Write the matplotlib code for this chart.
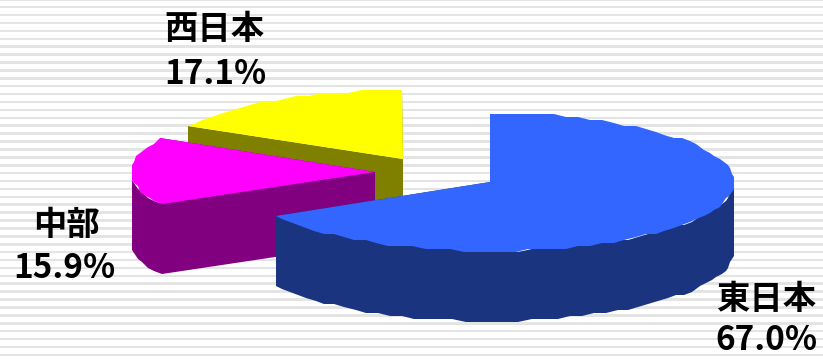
import numpy as np
import matplotlib.pyplot as plt
from matplotlib.patches import Polygon

# Regional shares, clockwise from 12 o'clock
regions = ['東日本', '中部', '西日本']
shares = [67.0, 15.9, 17.1]
top_colors = ['#3366FF', '#FF00FF', '#FFFF00']
side_colors = ['#1A347F', '#800080', '#808000']

# Pulled-out centre of each slice, pixels
centers = [(490, 182), (375, 172), (403, 159)]
rx, ry, depth = 244, 69, 70
W, H = 823, 360

edges = np.radians(np.cumsum([0] + shares) * 3.6)


def rim(cx, cy, a0, a1):
    t = np.linspace(a0, a1, max(int(np.degrees(a1 - a0) / 3), 2))
    # coarse steps give the stepped outline of the old chart renderer
    x = np.round((cx + rx * np.sin(t)) / 2) * 2
    y = np.round((cy - ry * np.cos(t)) / 3) * 3
    return x, y


fig = plt.figure(figsize=(W / 100, H / 100), dpi=100)
ax = fig.add_axes([0, 0, 1, 1])
ax.set(xlim=(0, W), ylim=(H, 0))
ax.axis('off')

# Striped background
for y in np.arange(-0.7, H + 2, 7.9):
    ax.axhspan(y - 1.3, y + 1.3, color='#E4E4E4', lw=0, zorder=0)

# Back to front: yellow, magenta, blue
for i in [2, 1, 0]:
    cx, cy = centers[i]
    a0, a1 = edges[i], edges[i + 1]
    x, y = rim(cx, cy, a0, a1)
    # cut faces
    for px, py in [(x[0], y[0]), (x[-1], y[-1])]:
        ax.add_patch(Polygon([(px, py), (cx, cy), (cx, cy + depth), (px, py + depth)],
                             fc=side_colors[i], ec='none', zorder=2 + 3 * (2 - i)))
    # outer wall, only where it faces the viewer
    lo, hi = max(a0, np.pi / 2), min(a1, 3 * np.pi / 2)
    if hi > lo:
        wx, wy = rim(cx, cy, lo, hi)
        wall = np.r_[np.c_[wx, wy], np.c_[wx, wy + depth][::-1]]
        ax.add_patch(Polygon(wall, fc=side_colors[i], ec='none', zorder=3 + 3 * (2 - i)))
    ax.add_patch(Polygon(np.r_[[(cx, cy)], np.c_[x, y]], fc=top_colors[i], ec='none',
                         zorder=4 + 3 * (2 - i)))

# Labels
label_pos = [(766, 299), (67, 226), (214, 29)]
value_pos = [(766, 341), (64, 269), (215, 74)]
for name, share, lp, vp in zip(regions, shares, label_pos, value_pos):
    ax.text(*lp, name, family=['Noto Sans CJK JP'], weight='bold', fontsize=24,
            ha='center', va='center', color='black', zorder=20)
    ax.text(*vp, f'{share:.1f}%', family=['Noto Sans CJK JP'], weight='bold',
            fontsize=24, ha='center', va='center', color='black', zorder=20)

plt.savefig('out.png', dpi=100)
